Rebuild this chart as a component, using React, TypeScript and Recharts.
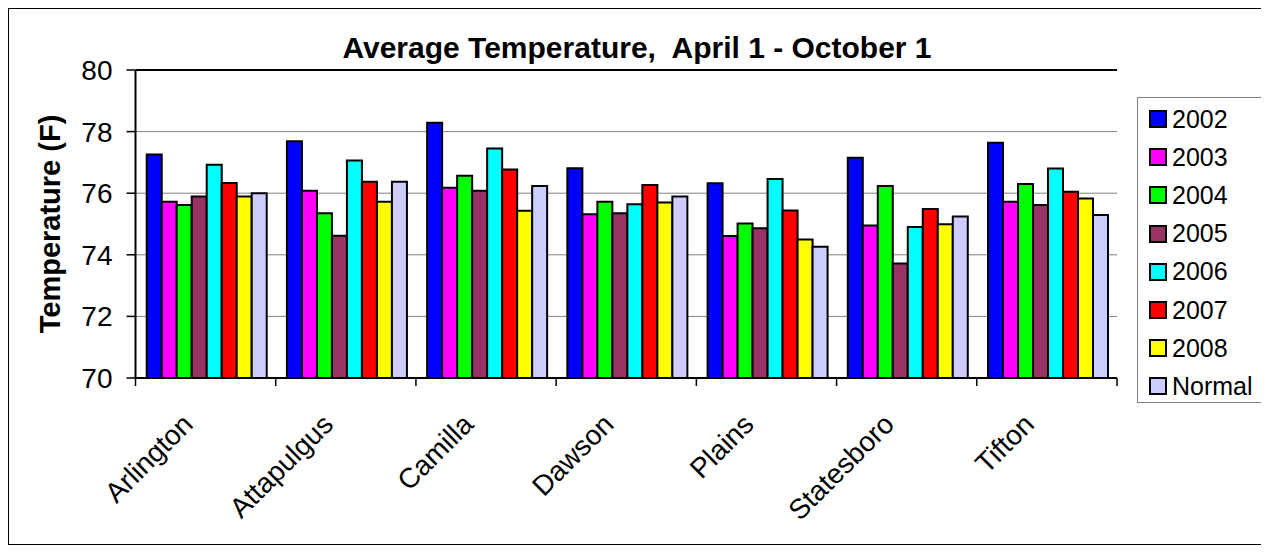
import React from 'react';
import { BarChart, Bar, XAxis, YAxis, CartesianGrid, Legend, ReferenceLine } from 'recharts';

const cities = ['Arlington', 'Attapulgus', 'Camilla', 'Dawson', 'Plains', 'Statesboro', 'Tifton'];

const t2002 = [77.26, 77.69, 78.29, 76.81, 76.32, 77.15, 77.64];
const t2003 = [75.72, 76.08, 76.18, 75.32, 74.61, 74.95, 75.72];
const t2004 = [75.62, 75.35, 76.57, 75.72, 75.02, 76.23, 76.3];
const t2005 = [75.89, 74.62, 76.08, 75.35, 74.86, 73.72, 75.62];
const t2006 = [76.92, 77.06, 77.45, 75.64, 76.46, 74.9, 76.8];
const t2007 = [76.33, 76.37, 76.77, 76.27, 75.44, 75.49, 76.05];
const t2008 = [75.89, 75.72, 75.43, 75.7, 74.5, 74.99, 75.83];
const normal = [76.0, 76.37, 76.23, 75.89, 74.26, 75.24, 75.29];

const yTicks = [70, 72, 74, 76, 78, 80];

const series = [
  { key: '2002', values: t2002, color: '#0000FF' },
  { key: '2003', values: t2003, color: '#FF00FF' },
  { key: '2004', values: t2004, color: '#00FF00' },
  { key: '2005', values: t2005, color: '#993366' },
  { key: '2006', values: t2006, color: '#00FFFF' },
  { key: '2007', values: t2007, color: '#FF0000' },
  { key: '2008', values: t2008, color: '#FFFF00' },
  { key: 'Normal', values: normal, color: '#CCCCFF' },
];

const data = cities.map((city, i) => {
  const row: Record<string, any> = { city };
  series.forEach((s) => {
    row[s.key] = s.values[i];
  });
  return row;
});

const FONT = '"Liberation Sans", Arial, sans-serif';

const CityTick = (props: any) => {
  const { x, y, payload, index } = props;
  const half = payload.offset ?? 70;
  const ax = x - 11;
  const ay = y + 48;
  const last = index === cities.length - 1;
  return (
    <g>
      <line x1={x - half} x2={x - half} y1={y} y2={y + 8} stroke="#000" strokeWidth={1.5} />
      {last && <line x1={x + half} x2={x + half} y1={y} y2={y + 8} stroke="#000" strokeWidth={1.5} />}
      <text
        x={ax}
        y={ay}
        textAnchor="end"
        fontSize={28}
        fontFamily={FONT}
        fill="#000"
        transform={`rotate(-45 ${ax} ${ay})`}
      >
        {payload.value}
      </text>
    </g>
  );
};

const LegendBox = () => (
  <div
    style={{
      border: '1px solid #808080',
      background: '#fff',
      boxSizing: 'border-box',
      width: 125,
      height: 306,
      paddingTop: 2,
      fontFamily: FONT,
    }}
  >
    {series.map((s) => (
      <div key={s.key} style={{ height: 38.2, display: 'flex', alignItems: 'center', paddingLeft: 11 }}>
        <span
          style={{
            display: 'inline-block',
            flex: 'none',
            width: 18,
            height: 18,
            boxSizing: 'border-box',
            border: '2px solid #000',
            background: s.color,
            marginRight: 5,
          }}
        />
        <span style={{ fontSize: 25, color: '#000', lineHeight: '25px', whiteSpace: 'nowrap' }}>{s.key}</span>
      </div>
    ))}
  </div>
);

export default function App() {
  return (
    <div
      style={{
        position: 'relative',
        width: 1258,
        height: 537,
        border: '1px solid #000',
        boxSizing: 'border-box',
        background: '#fff',
        fontFamily: FONT,
      }}
    >
      <div
        style={{
          position: 'absolute',
          left: 0,
          top: 22,
          width: 1256,
          textAlign: 'center',
          fontSize: 30,
          fontWeight: 'bold',
          lineHeight: '34px',
          whiteSpace: 'pre',
          color: '#000',
        }}
      >
        {'Average Temperature,  April 1 - October 1'}
      </div>
      <BarChart
        width={1256}
        height={535}
        data={data}
        margin={{ top: 61, right: 148, left: 0, bottom: 0 }}
        barCategoryGap="8%"
        barGap={0}
      >
        <CartesianGrid horizontal vertical={false} stroke="#808080" strokeWidth={1} />
        <XAxis
          dataKey="city"
          height={166}
          interval={0}
          tickSize={0}
          tickMargin={0}
          tickLine={false}
          axisLine={{ stroke: '#000', strokeWidth: 2 }}
          tick={<CityTick />}
        />
        <YAxis
          domain={[70, 80]}
          ticks={yTicks}
          width={126.5}
          tickSize={9}
          tickMargin={14}
          axisLine={{ stroke: '#000', strokeWidth: 2 }}
          tickLine={{ stroke: '#000', strokeWidth: 1.5 }}
          tick={{ fontSize: 28, fill: '#000', fontFamily: FONT }}
          label={{
            content: ({ viewBox }: any) => {
              const cy = viewBox.y + viewBox.height / 2;
              return (
                <text
                  x={41}
                  y={cy}
                  textAnchor="middle"
                  dominantBaseline="central"
                  fontSize={29}
                  fontWeight="bold"
                  fontFamily={FONT}
                  fill="#000"
                  transform={`rotate(-90 41 ${cy})`}
                >
                  Temperature (F)
                </text>
              );
            },
          }}
        />
        <YAxis
          yAxisId="border"
          orientation="right"
          domain={[70, 80]}
          width={0}
          tick={false}
          tickLine={false}
          axisLine={{ stroke: '#000', strokeWidth: 2 }}
        />
        <ReferenceLine y={80} stroke="#000" strokeWidth={2} />
        <Legend
          layout="vertical"
          align="center"
          verticalAlign="middle"
          wrapperStyle={{ left: 1128, top: 88, width: 125, height: 306 }}
          content={() => <LegendBox />}
        />
        {series.map((s) => (
          <Bar
            key={s.key}
            dataKey={s.key}
            fill={s.color}
            stroke="#000"
            strokeWidth={2}
            isAnimationActive={false}
          />
        ))}
      </BarChart>
    </div>
  );
}
